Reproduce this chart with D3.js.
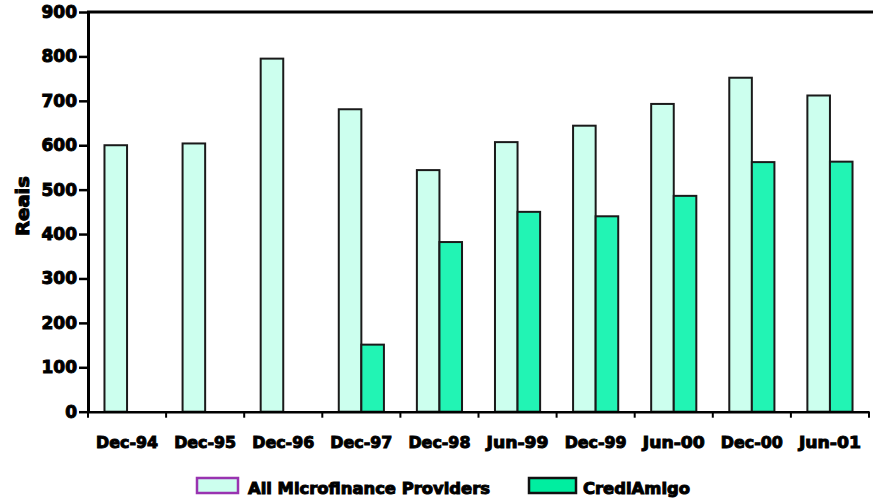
<!DOCTYPE html>
<html>
<head>
<meta charset="utf-8">
<script src="https://cdn.jsdelivr.net/npm/d3@7/dist/d3.min.js"></script>
<style>
  html, body { margin: 0; padding: 0; background: #fff; }
  svg { display: block; }
  text { font-family: "DejaVu Sans", sans-serif; font-weight: bold; fill: #000; }
</style>
</head>
<body>
<svg id="chart" width="873" height="501"></svg>
<script>
const categories = ["Dec-94", "Dec-95", "Dec-96", "Dec-97", "Dec-98", "Jun-99", "Dec-99", "Jun-00", "Dec-00", "Jun-01"];
const allProviders = [600, 604, 795, 681, 544, 607, 644, 693, 752, 712];
const crediAmigo = [null, null, null, 151, 382, 450, 440, 486, 562, 563];
const seriesNames = ["All Microfinance Providers", "CrediAmigo"];
const yTicks = [0, 100, 200, 300, 400, 500, 600, 700, 800, 900];

(function () {
const svg = d3.select("#chart");
const pLeft = 88, pRight = 869, pTop = 12, pBottom = 411.7;

const x0 = d3.scaleBand().domain(categories).range([pLeft, pRight]).padding(0);
const x1 = d3.scaleBand().domain(seriesNames).range([0, x0.bandwidth()]).paddingInner(0).paddingOuter(0.73);
const y = d3.scaleLinear().domain([0, 900]).range([pBottom, pTop]);
const color = d3.scaleOrdinal().domain(seriesNames).range(["#ccffee", "#22f4b4"]);
const legendStroke = d3.scaleOrdinal().domain(seriesNames).range(["#9933b0", "#111"]);

const rows = categories.map((c, i) => ({
  cat: c,
  vals: [
    { s: seriesNames[0], v: allProviders[i] },
    { s: seriesNames[1], v: crediAmigo[i] }
  ].filter(d => d.v !== null)
}));

const g = svg.append("g");
g.selectAll("g.cat").data(rows).join("g")
  .attr("class", "cat")
  .attr("transform", d => `translate(${x0(d.cat)},0)`)
  .selectAll("rect").data(d => d.vals).join("rect")
  .attr("x", d => x1(d.s))
  .attr("y", d => y(d.v))
  .attr("width", x1.bandwidth())
  .attr("height", d => y(0) - y(d.v))
  .attr("fill", d => color(d.s))
  .attr("stroke", "#1a1a1a")
  .attr("stroke-width", 2);

svg.append("line")
  .attr("x1", pLeft - 1).attr("x2", 873)
  .attr("y1", pTop).attr("y2", pTop)
  .attr("stroke", "#000").attr("stroke-width", 3);

const yAxis = d3.axisLeft(y).tickValues(yTicks).tickSize(9).tickPadding(2).tickSizeOuter(0);
const ya = svg.append("g").attr("transform", `translate(${pLeft},0)`).call(yAxis);
ya.select(".domain").attr("stroke", "#000").attr("stroke-width", 3);
ya.selectAll(".tick line").attr("stroke", "#000").attr("stroke-width", 2.5);
ya.selectAll(".tick text")
  .style("font-family", "'DejaVu Sans', sans-serif")
  .style("font-weight", "bold")
  .style("font-size", "17px")
  .attr("fill", "#000")
  .attr("stroke", "#000").attr("stroke-width", 1);

const xAxis = d3.axisBottom(x0).tickSize(0).tickPadding(0).tickSizeOuter(0);
const xa = svg.append("g").attr("transform", `translate(0,${pBottom})`).call(xAxis);
xa.select(".domain").attr("stroke", "#000").attr("stroke-width", 2.5);
xa.selectAll(".tick text")
  .attr("y", 36)
  .attr("dy", 0)
  .attr("textLength", 62)
  .attr("lengthAdjust", "spacingAndGlyphs")
  .style("font-family", "'DejaVu Sans', sans-serif")
  .style("font-weight", "bold")
  .style("font-size", "16px")
  .attr("fill", "#000")
  .attr("stroke", "#000").attr("stroke-width", 1);
const boundaries = categories.map(c => x0(c)).concat([x0(categories[categories.length - 1]) + x0.bandwidth()]);
xa.selectAll("line.bt").data(boundaries).join("line")
  .attr("class", "bt")
  .attr("x1", d => d).attr("x2", d => d)
  .attr("y1", 0).attr("y2", 6)
  .attr("stroke", "#000").attr("stroke-width", 2);

svg.append("text")
  .attr("transform", "translate(29,206) rotate(-90)")
  .attr("text-anchor", "middle")
  .attr("textLength", 60)
  .attr("lengthAdjust", "spacingAndGlyphs")
  .style("font-size", "18px")
  .attr("stroke", "#000").attr("stroke-width", 1)
  .text("Reais");

const legendItems = [
  { s: seriesNames[0], sx: 197, tx: 248, tl: 242 },
  { s: seriesNames[1], sx: 529, tx: 583, tl: 107 }
];
const lg = svg.append("g");
lg.selectAll("rect").data(legendItems).join("rect")
  .attr("x", d => d.sx).attr("y", 478)
  .attr("width", d => d.s === seriesNames[0] ? 41 : 47).attr("height", 15)
  .attr("fill", d => d.s === seriesNames[0] ? color(d.s) : "#00eea0")
  .attr("stroke", d => legendStroke(d.s))
  .attr("stroke-width", 2.5);
lg.selectAll("text").data(legendItems).join("text")
  .attr("x", d => d.tx).attr("y", 494)
  .attr("textLength", d => d.tl)
  .attr("lengthAdjust", "spacingAndGlyphs")
  .style("font-size", "16px")
  .attr("stroke", "#000").attr("stroke-width", 1)
  .text(d => d.s);
})();
</script>
</body>
</html>
